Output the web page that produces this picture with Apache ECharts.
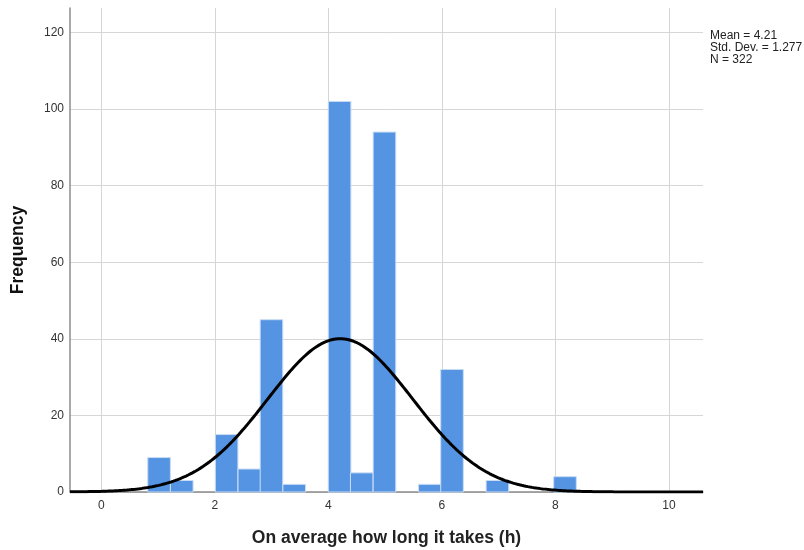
<!DOCTYPE html>
<html>
<head>
<meta charset="utf-8">
<script src="https://cdn.jsdelivr.net/npm/echarts@6/dist/echarts.min.js"></script>
<style>html,body{margin:0;padding:0;background:#fff;}#c{width:804px;height:550px;}</style>
</head>
<body>
<div id="c"></div>
<script>
// Histogram bins: lower edge of each bin (hours) and frequency
const binStarts = [0.82, 1.22, 2.01, 2.41, 2.80, 3.20, 4.00, 4.39, 4.79, 5.59, 5.98, 6.78, 7.97];
const binCounts = [9, 3, 15, 6, 45, 2, 102, 5, 94, 2, 32, 3, 4];
const binWidth = 0.398;
// Summary statistics shown in the chart
const statMean = 4.21;
const statSD = 1.277;
const statN = 322;
const xTicks = [0, 2, 4, 6, 8, 10];
const yTicks = [0, 20, 40, 60, 80, 100, 120];
const xMin = -0.55, xMax = 10.6, yMax = 126.4;

// Fitted normal curve (scaled to histogram counts) defined by the stats above
const curve = [];
for (let i = 0; i <= 300; i++) {
  const x = xMin + (xMax - xMin) * i / 300;
  const z = (x - statMean) / statSD;
  curve.push([x, statN * binWidth / (statSD * Math.sqrt(2 * Math.PI)) * Math.exp(-0.5 * z * z)]);
}

const barData = binStarts.map((s, i) => [s, s + binWidth, binCounts[i]]);
const font = 'Arial, "Liberation Sans", sans-serif';

const chart = echarts.init(document.getElementById('c'), null, {renderer: 'canvas'});
chart.setOption({
  animation: false,
  grid: {left: 70, right: 101, top: 8, bottom: 58, containLabel: false, outerBoundsMode: 'none'},
  xAxis: {
    type: 'value', min: xMin, max: xMax,
    name: 'On average how long it takes (h)', nameLocation: 'middle', nameGap: 37,
    nameTextStyle: {fontFamily: font, fontSize: 17.5, fontWeight: 'bold', color: '#222'},
    axisLine: {onZero: false, lineStyle: {color: '#8c8c8c', width: 1.5}},
    axisTick: {show: false, customValues: xTicks},
    axisLabel: {customValues: xTicks, fontFamily: font, fontSize: 12, color: '#333', margin: 8},
    splitLine: {show: true, lineStyle: {color: '#d6d6d6', width: 1}}
  },
  yAxis: {
    type: 'value', min: 0, max: yMax,
    name: 'Frequency', nameLocation: 'middle', nameGap: 43, nameRotate: 90,
    nameTextStyle: {fontFamily: font, fontSize: 17.5, fontWeight: 'bold', color: '#111'},
    axisLine: {show: true, onZero: false, lineStyle: {color: '#8c8c8c', width: 1.5}},
    axisTick: {show: false, customValues: yTicks},
    axisLabel: {customValues: yTicks, fontFamily: font, fontSize: 12, color: '#333', margin: 6},
    splitLine: {show: true, lineStyle: {color: '#d6d6d6', width: 1}}
  },
  graphic: [{
    type: 'text', left: 710, top: 30,
    style: {text: 'Mean = ' + statMean + '\nStd. Dev. = ' + statSD + '\nN = ' + statN,
      font: '12px ' + font, fill: '#222', lineHeight: 12}
  }],
  series: [{
    type: 'custom',
    data: barData,
    encode: {x: [0, 1], y: 2},
    renderItem: function (params, api) {
      const p0 = api.coord([api.value(0), 0]);
      const p1 = api.coord([api.value(1), api.value(2)]);
      return {
        type: 'rect',
        shape: {x: p0[0], y: p1[1], width: p1[0] - p0[0], height: p0[1] - p1[1]},
        style: {fill: '#5594e2', stroke: '#c9dcf5', lineWidth: 1}
      };
    },
    z: 2
  }, {
    type: 'line', data: curve, showSymbol: false, smooth: false,
    lineStyle: {color: '#000', width: 3}, z: 3, clip: true
  }]
});
</script>
</body>
</html>
